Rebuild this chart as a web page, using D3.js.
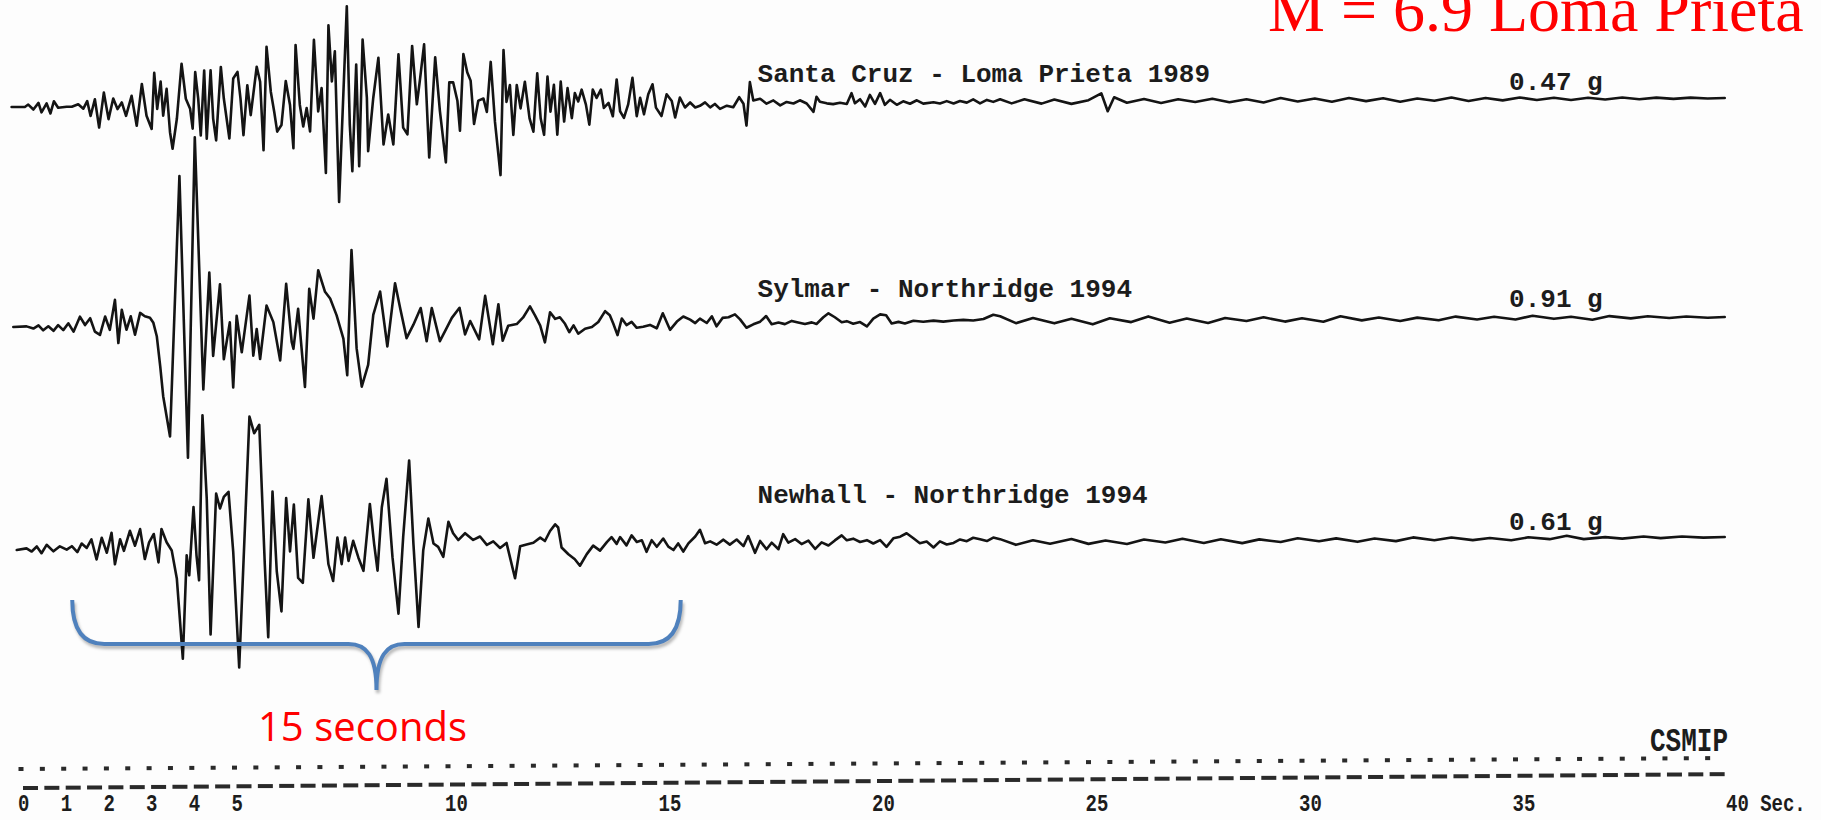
<!DOCTYPE html>
<html>
<head>
<meta charset="utf-8">
<title>Strong motion records</title>
<script src="https://d3js.org/d3.v7.min.js"></script>
<style>
  body { margin: 0; background: #fdfdfd; }
  svg { display: block; }
  .trace { fill: none; stroke: #141414; stroke-width: 2.6; stroke-linejoin: round; stroke-linecap: round; }
  .station, .pga { font: bold 26px "Liberation Mono", monospace; fill: #1c1c1c; }
  .tick { font: bold 19px "Liberation Mono", monospace; fill: #1c1c1c; }
  .agency { font: bold 26px "Liberation Mono", monospace; fill: #1c1c1c; }
  .title { font: 64px "Liberation Serif", serif; fill: #ff0000; }
  .brace-label { font: 40px "Open Sans", sans-serif; fill: #ff0000; text-anchor: middle; }
</style>
</head>
<body>
<script>
// acceleration records: [time (s), acceleration (g)]
var santaCruz = [
  [-0.22,0],[0.09,0],[0.17,0.012],[0.29,-0.013],[0.41,0.02],[0.48,-0.027],[0.6,0.017],[0.69,-0.033],
  [0.77,0.028],[0.87,-0.005],[1.07,0],[1.19,0],[1.34,0.012],[1.46,-0.01],[1.55,0.028],[1.63,-0.047],
  [1.73,0.037],[1.83,-0.105],[1.94,0.07],[2.05,-0.063],[2.16,0.04],[2.26,-0.013],[2.36,0.02],[2.46,-0.047],
  [2.59,0.053],[2.71,-0.097],[2.83,0.112],[2.94,-0.047],[3.06,-0.113],[3.12,0.167],[3.19,-0.013],[3.27,0.123],
  [3.33,-0.047],[3.41,0.087],[3.49,-0.13],[3.55,-0.213],[3.65,-0.063],[3.76,0.212],[3.86,0.037],[3.96,-0.013],
  [4.02,-0.113],[4.08,0.17],[4.15,0.037],[4.21,-0.147],[4.29,0.178],[4.35,-0.163],[4.44,0.178],[4.5,-0.063],
  [4.57,-0.172],[4.68,0.195],[4.75,0.037],[4.88,-0.163],[4.97,0.137],[5.07,0.17],[5.14,0.037],[5.21,-0.147],
  [5.3,0.103],[5.38,-0.047],[5.52,0.195],[5.6,0.12],[5.68,-0.222],[5.75,0.295],[5.85,0.07],[5.93,-0.03],
  [6.0,-0.13],[6.1,-0.097],[6.2,0.123],[6.3,0.003],[6.38,-0.213],[6.43,0.303],[6.53,0.003],[6.61,-0.105],
  [6.69,-0.013],[6.77,-0.13],[6.86,0.328],[6.96,-0.03],[7.04,0.087],[7.14,-0.338],[7.2,0.4],[7.28,0.12],
  [7.35,0.27],[7.45,-0.483],[7.63,0.495],[7.7,-0.097],[7.76,-0.33],[7.85,0.203],[7.92,-0.305],[8.0,0.328],
  [8.1,0.037],[8.13,-0.23],[8.25,0.037],[8.37,0.237],[8.49,-0.197],[8.6,-0.047],[8.72,-0.197],[8.84,0.253],
  [8.95,-0.113],[9.05,-0.147],[9.16,0.295],[9.27,0.003],[9.34,0.12],[9.44,0.303],[9.56,-0.263],[9.7,0.237],
  [9.81,-0.03],[9.95,-0.288],[10.03,0.112],[10.12,0.112],[10.22,0.02],[10.28,-0.13],[10.36,0.253],[10.45,0.162],
  [10.53,0.12],[10.61,-0.097],[10.71,0.02],[10.83,0.03],[10.91,-0.037],[11.0,0.213],[11.1,-0.087],[11.23,-0.353],
  [11.3,0.272],[11.37,0.013],[11.45,0.097],[11.53,-0.153],[11.61,0.097],[11.7,-0.02],[11.8,0.113],[11.91,-0.07],
  [12.0,-0.137],[12.09,0.155],[12.17,-0.07],[12.25,-0.153],[12.33,0.138],[12.4,-0.037],[12.48,0.097],[12.56,-0.153],
  [12.64,0.113],[12.72,-0.087],[12.8,0.08],[12.9,-0.07],[12.97,0.055],[13.05,0.013],[13.13,0.072],[13.23,-0.003],
  [13.31,-0.103],[13.39,0.072],[13.48,0.03],[13.58,0.072],[13.65,-0.02],[13.76,0.005],[13.86,-0.062],[13.95,0.122],
  [14.03,-0.037],[14.12,-0.07],[14.22,-0.003],[14.32,0.13],[14.42,-0.062],[14.5,0.03],[14.59,-0.053],[14.69,0.047],
  [14.79,0.097],[14.87,-0.02],[15.0,-0.062],[15.12,0.047],[15.24,0.013],[15.32,-0.07],[15.43,0.03],[15.55,-0.02],
  [15.67,0.005],[15.79,-0.02],[15.9,-0.012],[16.02,0.005],[16.14,-0.02],[16.25,-0.003],[16.37,-0.028],[16.53,-0.012],
  [16.68,-0.02],[16.82,0.03],[16.92,-0.003],[16.99,-0.112],[17.07,0.105],[17.15,0.013],[17.31,0.022],[17.46,-0.003],
  [17.62,0.013],[17.78,-0.012],[17.93,0.005],[18.09,-0.003],[18.24,0.013],[18.4,-0.003],[18.56,-0.045],[18.63,0.03],
  [18.71,0.005],[18.87,-0.003],[19.02,-0.007],[19.18,0],[19.34,-0.007],[19.45,0.047],[19.53,-0.003],[19.65,0.017],
  [19.77,-0.02],[19.88,0.038],[20.0,-0.007],[20.12,0.047],[20.23,-0.012],[20.35,0.013],[20.51,-0.012],[20.66,0.005],
  [20.82,-0.007],[20.98,0.01],[21.13,-0.007],[21.37,0],[21.52,-0.007],[21.68,0.005],[21.84,-0.007],[21.99,0.005],
  [22.15,-0.003],[22.3,0.013],[22.46,-0.007],[22.62,0.01],[22.77,0],[22.93,0.013],[23.2,-0.008],[23.5,0.012],
  [23.9,-0.01],[24.2,0.01],[24.6,-0.012],[25.0,0.006],[25.3,0.04],[25.45,-0.05],[25.6,0.02],[25.9,-0.008],
  [26.3,0.01],[26.7,-0.01],[27.1,0.008],[27.5,-0.006],[27.9,0.01],[28.3,-0.008],[28.7,0.006],[29.1,-0.01],
  [29.5,0.012],[29.9,-0.006],[30.3,0.008],[30.7,-0.008],[31.1,0.01],[31.5,-0.006],[31.9,0.008],[32.3,-0.01],
  [32.7,0.006],[33.1,-0.006],[33.5,0.01],[33.9,-0.008],[34.3,0.006],[34.7,-0.006],[35.1,0.008],[35.5,-0.005],
  [35.9,0.006],[36.3,-0.006],[36.7,0.005],[37.1,-0.004],[37.5,0.005],[37.9,-0.004],[38.3,0.004],[38.7,-0.003],
  [39.1,0.003],[39.5,-0.002],[39.9,0]
];

var sylmar = [
  [-0.18,0],[0.13,0.003],[0.29,-0.008],[0.41,0.008],[0.52,-0.017],[0.64,0.003],[0.76,-0.02],[0.87,0.008],
  [0.99,-0.017],[1.11,0.017],[1.23,-0.025],[1.38,0.05],[1.5,0.008],[1.62,0.042],[1.73,-0.025],[1.85,-0.042],
  [1.97,0.05],[2.08,-0.017],[2.2,0.133],[2.28,-0.083],[2.36,0.083],[2.47,-0.017],[2.57,0.05],[2.67,-0.042],
  [2.79,0.067],[2.9,0.05],[3.02,0.042],[3.1,0.017],[3.18,-0.05],[3.26,-0.2],[3.33,-0.35],[3.49,-0.552],
  [3.71,0.75],[3.91,-0.658],[4.07,0.943],[4.27,-0.317],[4.41,0.267],[4.5,-0.15],[4.66,0.208],[4.75,-0.167],
  [4.89,0.017],[4.97,-0.308],[5.05,0.05],[5.17,-0.133],[5.35,0.15],[5.44,-0.15],[5.52,-0.017],[5.6,-0.167],
  [5.75,0.1],[5.91,0.017],[6.07,-0.175],[6.21,0.208],[6.34,-0.083],[6.38,-0.117],[6.49,0.083],[6.65,-0.308],
  [6.75,0.183],[6.85,0.033],[6.96,0.275],[7.12,0.167],[7.24,0.133],[7.39,0.05],[7.55,-0.067],[7.64,-0.25],
  [7.74,0.375],[7.86,-0.117],[7.98,-0.308],[8.13,-0.2],[8.25,0.05],[8.41,0.167],[8.58,-0.108],[8.76,0.208],
  [8.88,0.083],[9.03,-0.067],[9.19,0],[9.36,0.083],[9.5,-0.083],[9.62,0.083],[9.81,-0.083],[9.97,-0.017],
  [10.09,0.033],[10.27,0.083],[10.4,-0.05],[10.52,0.017],[10.73,-0.075],[10.87,0.142],[11.05,-0.1],[11.18,0.1],
  [11.28,-0.083],[11.41,-0.008],[11.61,0],[11.76,0.033],[11.92,0.088],[12.04,0.042],[12.16,-0.008],[12.27,-0.092],
  [12.39,0.058],[12.51,0.025],[12.62,0.033],[12.74,0],[12.84,-0.042],[12.94,-0.008],[13.05,-0.05],[13.21,-0.025],
  [13.37,-0.017],[13.52,0.008],[13.68,0.062],[13.79,0.042],[13.87,0],[13.97,-0.058],[14.07,0.025],[14.18,-0.008],
  [14.3,0.008],[14.42,-0.022],[14.57,-0.017],[14.73,-0.008],[14.89,-0.025],[15.03,0.05],[15.2,-0.033],[15.36,0.008],
  [15.51,0.033],[15.67,0.017],[15.79,0],[15.9,0.022],[16.06,0],[16.18,0.033],[16.29,-0.017],[16.43,0.025],
  [16.57,0.028],[16.72,0.042],[16.84,0.017],[16.99,-0.025],[17.15,-0.008],[17.31,0.005],[17.45,0.033],[17.58,-0.008],
  [17.74,0],[17.89,-0.008],[18.05,0.008],[18.2,0],[18.36,-0.008],[18.52,0],[18.63,-0.008],[18.79,0.025],
  [18.91,0.045],[19.06,0.025],[19.22,0],[19.34,0.005],[19.49,-0.008],[19.65,0],[19.81,-0.022],[19.96,0.017],
  [20.12,0.038],[20.26,0.033],[20.39,-0.008],[20.55,0],[20.7,-0.008],[20.9,0.005],[21.13,0],[21.37,0.005],
  [21.6,0],[21.84,0.005],[22.07,0.008],[22.3,0.005],[22.54,0.012],[22.77,0.033],[22.93,0.025],[23.3,-0.01],
  [23.7,0.015],[24.2,-0.012],[24.6,0.01],[25.1,-0.018],[25.5,0.012],[26.0,-0.008],[26.4,0.02],[26.9,-0.012],
  [27.3,0.008],[27.8,-0.015],[28.2,0.01],[28.7,-0.006],[29.1,0.012],[29.6,-0.01],[30.0,0.006],[30.5,-0.012],
  [30.9,0.015],[31.4,-0.006],[31.8,0.008],[32.3,-0.01],[32.7,0.006],[33.2,-0.008],[33.6,0.01],[34.1,-0.005],
  [34.5,0.008],[35.0,-0.006],[35.4,0.012],[35.9,-0.004],[36.3,0.006],[36.8,-0.01],[37.2,0.008],[37.7,-0.004],
  [38.1,0.006],[38.6,-0.003],[39.0,0.004],[39.5,-0.003],[39.9,0]
];

var newhall = [
  [-0.1,0],[0.13,0.008],[0.25,-0.008],[0.37,0.017],[0.48,-0.017],[0.6,0.025],[0.76,-0.008],[0.91,0.017],
  [1.07,0],[1.19,0.017],[1.32,-0.013],[1.42,0.03],[1.54,0.008],[1.65,0.05],[1.77,-0.05],[1.89,0.058],
  [2.01,-0.017],[2.12,0.083],[2.2,-0.075],[2.32,0.05],[2.41,-0.008],[2.55,0.092],[2.67,0.017],[2.79,0.1],
  [2.9,-0.05],[3.0,0.033],[3.11,0.075],[3.22,-0.067],[3.29,0.1],[3.41,0.033],[3.53,-0.008],[3.65,-0.15],
  [3.79,-0.55],[3.88,-0.033],[3.94,-0.133],[4.04,0.208],[4.11,-0.033],[4.17,-0.158],[4.25,0.667],[4.35,0.25],
  [4.44,-0.43],[4.57,0.275],[4.66,0.2],[4.75,0.258],[4.86,0.283],[4.97,-0.017],[5.11,-0.595],[5.35,0.658],
  [5.46,0.575],[5.58,0.617],[5.71,-0.083],[5.79,-0.445],[5.89,0.283],[5.99,-0.117],[6.1,-0.317],[6.21,0.25],
  [6.3,-0.017],[6.39,0.217],[6.49,-0.15],[6.6,-0.175],[6.73,0.242],[6.85,-0.05],[7.04,0.258],[7.2,-0.083],
  [7.31,-0.167],[7.41,0.05],[7.51,-0.083],[7.59,0.05],[7.67,-0.067],[7.78,0.033],[7.9,-0.05],[8.02,-0.117],
  [8.17,0.217],[8.27,0.017],[8.35,-0.117],[8.45,0.2],[8.56,0.342],[8.7,-0.05],[8.84,-0.333],[8.95,0.05],
  [9.09,0.433],[9.19,0.017],[9.31,-0.4],[9.42,-0.017],[9.54,0.142],[9.66,0.017],[9.77,0],[9.89,-0.05],
  [10.01,0.125],[10.12,0.067],[10.24,0.033],[10.4,0.067],[10.59,0.033],[10.75,0.05],[10.91,0.008],[11.06,0.025],
  [11.22,-0.008],[11.37,0.017],[11.57,-0.16],[11.69,0],[11.84,0.008],[12.0,0.017],[12.16,0.042],[12.27,0.025],
  [12.39,0.075],[12.51,0.108],[12.58,0.092],[12.66,-0.008],[12.82,-0.042],[12.97,-0.067],[13.09,-0.1],[13.25,-0.042],
  [13.4,0],[13.56,-0.025],[13.72,0.017],[13.83,0.042],[13.95,0.008],[14.03,0.042],[14.18,0],[14.3,0.05],
  [14.42,0.017],[14.54,0.025],[14.65,-0.033],[14.77,0.025],[14.89,-0.008],[15.04,0.033],[15.16,-0.008],[15.28,-0.025],
  [15.39,0.008],[15.51,-0.033],[15.63,0.008],[15.79,0.042],[15.9,0.075],[16.02,0.008],[16.14,0.017],[16.29,0],
  [16.45,0.025],[16.6,0],[16.76,0.025],[16.92,-0.008],[17.03,0.042],[17.19,-0.042],[17.31,0.017],[17.46,-0.025],
  [17.58,0.008],[17.74,-0.025],[17.85,0.05],[17.97,0.008],[18.13,0.025],[18.28,0],[18.44,0.017],[18.6,-0.025],
  [18.75,0.008],[18.91,-0.008],[19.06,0.017],[19.22,0.042],[19.34,0.017],[19.49,0.025],[19.65,0.008],[19.81,0.017],
  [19.96,0],[20.12,0.017],[20.27,-0.017],[20.43,0.025],[20.59,0.033],[20.74,0.05],[20.9,0.025],[21.05,0],
  [21.21,0.008],[21.37,-0.022],[21.52,0.008],[21.68,-0.008],[21.84,0],[21.99,0.017],[22.15,0.008],[22.3,0.025],
  [22.46,0.017],[22.62,0.008],[22.77,0.025],[22.93,0.017],[23.3,-0.012],[23.7,0.01],[24.1,-0.008],[24.6,0.015],
  [25.0,-0.01],[25.4,0.006],[25.9,-0.012],[26.3,0.01],[26.8,-0.006],[27.2,0.012],[27.7,-0.01],[28.1,0.008],
  [28.6,-0.012],[29.0,0.006],[29.5,-0.008],[29.9,0.01],[30.4,-0.006],[30.8,0.008],[31.3,-0.01],[31.7,0.006],
  [32.2,-0.008],[32.6,0.01],[33.1,-0.005],[33.5,0.008],[34.0,-0.006],[34.4,0.004],[34.9,-0.008],[35.3,0.006],
  [35.8,-0.004],[36.2,0.012],[36.6,-0.005],[37.1,0.004],[37.5,-0.004],[38.0,0.006],[38.4,-0.003],[38.9,0.004],
  [39.4,-0.002],[39.9,0]
];

var stationNames = ["Santa Cruz - Loma Prieta 1989", "Sylmar - Northridge 1994", "Newhall - Northridge 1994"];
var peakAccel = ["0.47 g", "0.91 g", "0.61 g"];
var tickValues = [0, 1, 2, 3, 4, 5, 10, 15, 20, 25, 30, 35, 40];
var tickLabels = ["0", "1", "2", "3", "4", "5", "10", "15", "20", "25", "30", "35", "40 Sec."];
var braceSpan = [1.2, 15.45];
var braceLabel = "15 seconds";
var titleText = "M = 6.9 Loma Prieta";
var agencyText = "CSMIP";

var width = 1821, height = 820;

var svg = d3.select("body").append("svg")
    .attr("width", width)
    .attr("height", height);

var defs = svg.append("defs");
defs.append("filter").attr("id", "soft")
  .append("feGaussianBlur").attr("stdDeviation", 1.6);

var x = d3.scaleLinear().domain([0, 40]).range([21, 1729]);
var amp = d3.scaleLinear().domain([0, 1]).range([0, -200]);

// each record sits on a slightly tilted baseline, like the paper plot
var traces = [
  {data: santaCruz, y0: 107, y1: 98, labelY: 82, pgaY: 90},
  {data: sylmar, y0: 327, y1: 317, labelY: 297, pgaY: 307},
  {data: newhall, y0: 550, y1: 537, labelY: 503, pgaY: 530}
];

traces.forEach(function(tr, i) {
  var base = d3.scaleLinear().domain([0, 40]).range([tr.y0, tr.y1]);
  var line = d3.line()
      .x(d => x(d[0]))
      .y(d => base(d[0]) + amp(d[1]));

  svg.append("path")
      .datum(tr.data)
      .attr("class", "trace")
      .attr("d", line);

  svg.append("text")
      .attr("class", "station")
      .attr("x", x(17.25))
      .attr("y", tr.labelY)
      .text(stationNames[i]);

  svg.append("text")
      .attr("class", "pga")
      .attr("x", x(34.85))
      .attr("y", tr.pgaY)
      .text(peakAccel[i]);
});

// time scale: dotted row and dashed row, every half second
var dotY = d3.scaleLinear().domain([0, 40]).range([769, 758]);
var dashY = d3.scaleLinear().domain([0, 40]).range([788, 774]);
var halfSec = x.ticks(80).filter(t => t < 40);

svg.append("g").selectAll("rect")
    .data(halfSec)
    .join("rect")
      .attr("x", t => x(t) - 2.5)
      .attr("y", t => dotY(t) - 2)
      .attr("width", 5)
      .attr("height", 4)
      .attr("fill", "#2a2a2a");

svg.append("g").selectAll("rect")
    .data(halfSec)
    .join("rect")
      .attr("x", t => x(t) + 2)
      .attr("y", t => dashY(t) - 2)
      .attr("width", 15)
      .attr("height", 4)
      .attr("fill", "#2a2a2a");

svg.append("g").selectAll("text")
    .data(tickValues)
    .join("text")
      .attr("class", "tick")
      .attr("transform", t => "translate(" + (x(t) - 3) + ",811) scale(1,1.3)")
      .text((t, i) => tickLabels[i]);

svg.append("text")
    .attr("class", "agency")
    .attr("transform", "translate(1650,751) scale(1,1.3)")
    .text(agencyText);

// brace under the strong shaking
var bx0 = x(braceSpan[0]), bx1 = x(braceSpan[1]), bm = (bx0 + bx1) / 2;
var bTop = 600, bLine = 644, bTip = 690;
var bp = d3.path();
bp.moveTo(bx0, bTop);
bp.bezierCurveTo(bx0, bLine - 16, bx0 + 10, bLine, bx0 + 32, bLine);
bp.lineTo(bm - 28, bLine);
bp.bezierCurveTo(bm - 10, bLine, bm, bLine + 12, bm, bTip);
bp.bezierCurveTo(bm, bLine + 12, bm + 10, bLine, bm + 28, bLine);
bp.lineTo(bx1 - 32, bLine);
bp.bezierCurveTo(bx1 - 10, bLine, bx1, bLine - 16, bx1, bTop);

svg.append("path")
    .attr("d", bp.toString())
    .attr("transform", "translate(1.5,3)")
    .attr("fill", "none")
    .attr("stroke", "rgba(0,0,0,0.28)")
    .attr("stroke-width", 4)
    .attr("filter", "url(#soft)");

svg.append("path")
    .attr("d", bp.toString())
    .attr("fill", "none")
    .attr("stroke", "#4f81bd")
    .attr("stroke-width", 4);

svg.append("text")
    .attr("class", "brace-label")
    .attr("x", bm - 14)
    .attr("y", 741)
    .text(braceLabel);

svg.append("text")
    .attr("class", "title")
    .attr("x", 1268)
    .attr("y", 31)
    .text(titleText);
</script>
</body>
</html>
